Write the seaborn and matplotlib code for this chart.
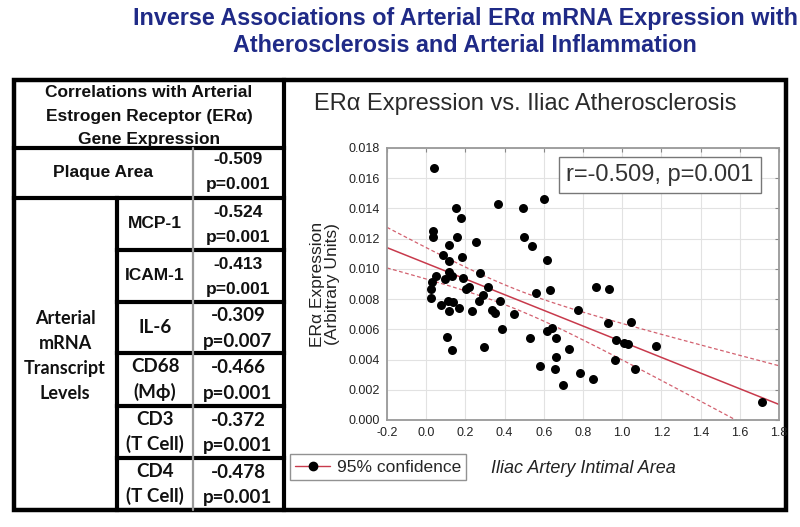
import numpy as np
import pandas as pd
import matplotlib.pyplot as plt
from matplotlib.patches import Rectangle
from matplotlib.lines import Line2D
import seaborn as sns

# iliac intimal area vs arterial ERa expression
intimal_area = [0.04, 0.152, 0.367, 0.492, 0.18, 0.034, 0.034, 0.155, 0.497, 0.539,
                0.117, 0.252, 0.086, 0.117, 0.183, 0.276, 0.117, 0.052, 0.096, 0.131,
                0.186, 0.031, 0.218, 0.204, 0.314, 0.024, 0.29, 0.022, 0.271, 0.376,
                0.074, 0.109, 0.135, 0.117, 0.169, 0.235, 0.335, 0.35, 0.449, 0.385,
                0.104, 0.131, 0.293, 0.532, 0.558, 0.63, 0.865, 0.934, 0.774, 0.929,
                1.047, 0.618, 0.64, 0.661, 0.73, 0.661, 0.583, 0.658, 0.696, 0.785,
                0.851, 0.969, 1.01, 1.032, 0.964, 1.067, 1.174, 1.715, 0.601, 0.614]
era_expression = [0.0167, 0.0140, 0.0143, 0.0140, 0.0134, 0.0125, 0.0121, 0.0121, 0.0121, 0.0115,
                  0.0116, 0.0118, 0.0109, 0.0105, 0.0108, 0.0097, 0.0098, 0.0095, 0.0093, 0.0095,
                  0.0094, 0.0091, 0.0088, 0.0087, 0.0088, 0.0087, 0.0083, 0.0081, 0.0079, 0.0079,
                  0.0076, 0.0079, 0.0078, 0.0072, 0.0074, 0.0072, 0.0073, 0.0071, 0.0070, 0.0060,
                  0.0055, 0.0046, 0.0048, 0.0054, 0.0084, 0.0086, 0.0088, 0.0087, 0.0073, 0.0064,
                  0.0065, 0.0059, 0.0061, 0.0054, 0.0047, 0.0042, 0.0036, 0.0034, 0.0023, 0.0031,
                  0.0027, 0.0053, 0.0051, 0.0050, 0.0040, 0.0034, 0.0049, 0.0012, 0.0146, 0.0106]

# correlation table
plaque_r = "-0.509"
plaque_p = "p=0.001"
marker_names = ["MCP-1", "ICAM-1", "IL-6", "CD68\n(M\u03d5)", "CD3\n(T Cell)", "CD4\n(T Cell)"]
marker_r = ["-0.524", "-0.413", "-0.309", "-0.466", "-0.372", "-0.478"]
marker_p = ["p=0.001", "p=0.001", "p=0.007", "p=0.001", "p=0.001", "p=0.001"]

x_ticks = np.round(np.arange(-0.2, 1.81, 0.2), 1)
y_ticks = np.round(np.arange(0.0, 0.0181, 0.002), 3)

sns.set_style("white")
plt.rcParams["font.family"] = ["Liberation Sans", "DejaVu Sans"]
plt.rcParams["axes.unicode_minus"] = False

W, H = 800, 527
fig = plt.figure(figsize=(W / 100, H / 100), dpi=100)

# background layer in pixel coordinates for the frame and the table
bg = fig.add_axes([0, 0, 1, 1], zorder=0)
bg.set_xlim(0, W)
bg.set_ylim(H, 0)
bg.axis("off")

navy = "#1f2a87"
fig.text(465 / W, 1 - 19 / H, "Inverse Associations of Arterial ER\u03b1 mRNA Expression with",
         ha="center", va="center", fontsize=16.8, fontweight="bold", color=navy)
fig.text(465 / W, 1 - 46 / H, "Atherosclerosis and Arterial Inflammation",
         ha="center", va="center", fontsize=16.8, fontweight="bold", color=navy)

blk = dict(color="black", lw=3, solid_capstyle="projecting")
bg.add_patch(Rectangle((14, 80), 772, 430, fill=False, ec="black", lw=3.2))
bg.plot([284, 284], [80, 510], **blk)
bg.plot([14, 284], [148, 148], **blk)
bg.plot([14, 284], [198, 198], **blk)
bg.plot([117, 117], [198, 510], **blk)
row_edges = [198, 250, 302, 353, 406, 458, 510]
for yy in row_edges[1:-1]:
    bg.plot([117, 284], [yy, yy], **blk)
bg.plot([193, 193], [148, 510], color="#9a9a9a", lw=1.6)

tb = dict(ha="center", va="center", fontweight="bold", color="#111111")
arial = ["Liberation Sans", "DejaVu Sans"]
calib = ["Lato", "DejaVu Sans"]
bg.text(149, 116, "Correlations with Arterial\nEstrogen Receptor (ER\u03b1)\nGene Expression",
        fontsize=12.5, linespacing=1.72, **tb)
bg.text(103, 172, "Plaque Area", fontsize=12.5, **tb)
bg.text(238, 172, plaque_r + "\n" + plaque_p, fontsize=12.5, linespacing=1.9, **tb)
bg.text(65, 356, "Arterial\nmRNA\nTranscript\nLevels", fontsize=13, linespacing=1.58,
        family=calib, **tb)
for i, (name, r, p) in enumerate(zip(marker_names, marker_r, marker_p)):
    yc = (row_edges[i] + row_edges[i + 1]) / 2
    if i < 2:
        fam, fs, ls = arial, 12.5, 1.9
    else:
        fam, fs, ls = calib, 13.5, 1.62
    bg.text(155, yc, name, fontsize=fs, linespacing=1.5, family=fam, **tb)
    bg.text(238, yc + 1, r + "\n" + p, fontsize=fs, linespacing=ls, family=fam, **tb)

fig.text(525 / W, 1 - 104 / H, "ER\u03b1 Expression vs. Iliac Atherosclerosis",
         ha="center", va="center", fontsize=17, color="#2a2a2a")

# scatter panel
ax = fig.add_axes([387 / W, 1 - 420 / H, 392 / W, 272 / H], zorder=2)
ax.set_xlim(-0.2, 1.8)
ax.set_ylim(0.0, 0.018)

df = pd.DataFrame({"area": intimal_area, "era": era_expression})
red = "#c83a4c"
sns.regplot(data=df, x="area", y="era", scatter=False, ci=None, truncate=False,
            line_kws=dict(color=red, lw=1.1), ax=ax)

# 95% confidence band of the fitted line, drawn as dashed lines
xv = df["area"].to_numpy()
yv = df["era"].to_numpy()
n = len(xv)
slope, icpt = np.polyfit(xv, yv, 1)
resid = yv - (slope * xv + icpt)
s = np.sqrt(np.sum(resid ** 2) / (n - 2))
grid = np.linspace(-0.2, 1.8, 100)
se = s * np.sqrt(1 / n + (grid - xv.mean()) ** 2 / np.sum((xv - xv.mean()) ** 2))
fit = slope * grid + icpt
for band in (fit + 1.996 * se, fit - 1.996 * se):
    ax.plot(grid, band, color=red, lw=0.9, ls=(0, (3, 2)), alpha=0.8)

sns.scatterplot(data=df, x="area", y="era", color="black", s=42, edgecolor="black",
                linewidth=0, ax=ax, zorder=3, legend=False)

ax.set_xlim(-0.2, 1.8)
ax.set_ylim(0.0, 0.018)
ax.set_xticks(x_ticks)
ax.set_xticklabels([f"{v:.1f}" for v in x_ticks])
ax.set_yticks(y_ticks)
ax.set_yticklabels([f"{v:.3f}" for v in y_ticks])
ax.grid(True, color="#e2e2e2", lw=0.8)
ax.tick_params(direction="in", length=3, color="#888888", labelsize=9, labelcolor="#222222",
               top=True, right=True, pad=5)
for sp in ax.spines.values():
    sp.set_color("#999999")
    sp.set_linewidth(1.3)

ax.set_xlabel("Iliac Artery Intimal Area", fontsize=13, style="italic", color="#222222", labelpad=15)
ax.set_ylabel("ER\u03b1 Expression\n(Arbitrary Units)", fontsize=12.5, color="#222222",
              labelpad=6, linespacing=1.05)

ax.text(0.696, 0.90, "r=-0.509, p=0.001", transform=ax.transAxes, ha="center", va="center",
        fontsize=17, color="#333333",
        bbox=dict(boxstyle="square,pad=0.3", fc="white", ec="#777777", lw=1))

handle = Line2D([], [], color=red, lw=1, marker="o", markersize=6,
                markerfacecolor="black", markeredgecolor="black")
fig.legend([handle], ["95% confidence"], loc="lower left",
           bbox_to_anchor=(290 / W, 1 - 480 / H), borderaxespad=0, fontsize=12.5,
           frameon=True, fancybox=False, edgecolor="#777777", handlelength=2.0,
           borderpad=0.3, handletextpad=0.4)

fig.savefig("out.png", dpi=100)
